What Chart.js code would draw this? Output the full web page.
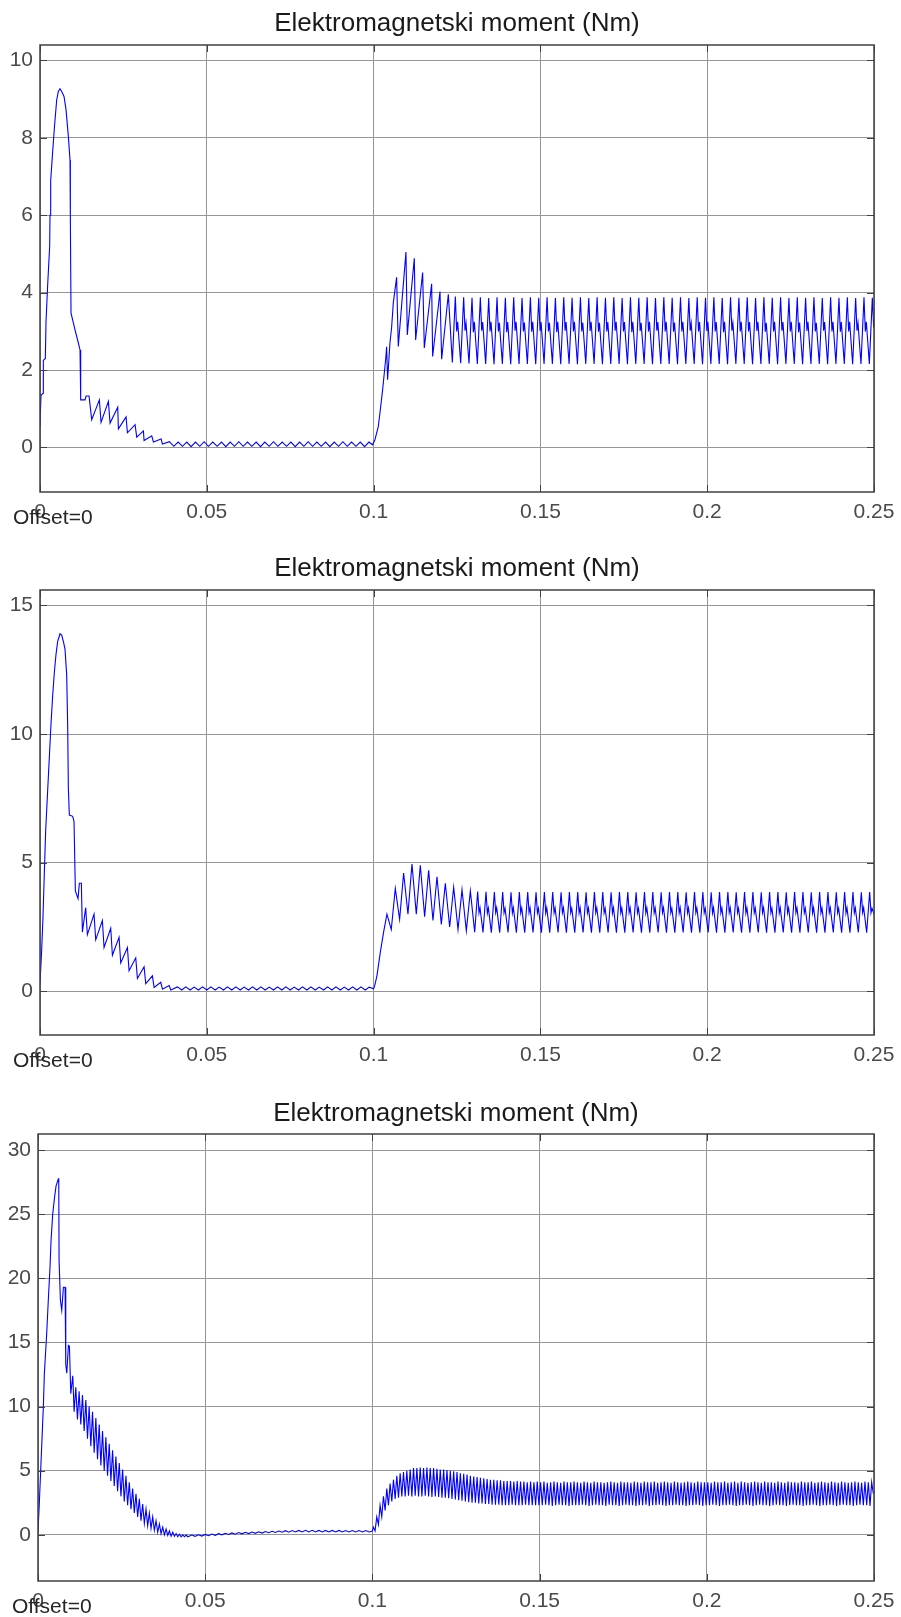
<!DOCTYPE html>
<html>
<head>
<meta charset="utf-8">
<script src="https://cdn.jsdelivr.net/npm/chart.js@4.4.1/dist/chart.umd.min.js"></script>
<style>
  html, body { margin: 0; padding: 0; background: #fff; }
  .box { position: absolute; left: 0; width: 901px; }
</style>
</head>
<body>
<div class="box" style="top:0;height:545px"><canvas id="c1"></canvas></div>
<div class="box" style="top:545px;height:545px"><canvas id="c2"></canvas></div>
<div class="box" style="top:1090px;height:527px"><canvas id="c3"></canvas></div>
<script>
/* ================= DATA (time in ms, torque in Nm) ================= */
const chartTitle = "Elektromagnetski moment (Nm)";
const offsetText = "Offset=0";
const xTicks = [0, 0.05, 0.1, 0.15, 0.2, 0.25];
const xTickLabels = ["0", "0.05", "0.1", "0.15", "0.2", "0.25"];

const yTicks1 = [0, 2, 4, 6, 8, 10];
const yRange1 = [-1.15, 10.4];
const yTicks2 = [0, 5, 10, 15];
const yRange2 = [-1.7, 15.6];
const yTicks3 = [0, 5, 10, 15, 20, 25, 30];
const yRange3 = [-3.6, 31.25];

// plot 1 : start-up
const t1a = [0,0.3,0.9,1.0,1.6,1.8,2.3,2.9,3.0,3.2,3.8,4.3,5.0,5.5,6.0,6.5,7.2,7.8,8.5,9.0,
  9.1,9.3,10.5,11.5,12.0,12.2,13.5,13.8,14.7,15.5,17.8,18.3,20.5,21.0,23.3,23.5,25.8,26.2,28.5,29.0,
  31.0,31.2,33.5,34.0,36.3,36.7];
const v1a = [0.55,1.35,1.4,2.25,2.3,3.25,4.2,5.2,6.0,6.9,7.65,8.25,8.98,9.2,9.27,9.2,9.07,8.73,8.04,7.43,
  5.9,3.47,3.04,2.7,2.52,1.23,1.23,1.33,1.33,0.72,1.23,0.65,1.19,0.63,1.04,0.48,0.79,0.38,0.59,0.27,
  0.43,0.18,0.3,0.14,0.22,0.09];
// plot 1 : no-load ripple
const t1b = [38.8,40.1,41.4,42.7,44.0,45.3,46.6,47.9,49.2,50.5,51.8,53.1,54.4,55.7,57.0,58.3,59.6,60.9,62.2,63.5,
  64.8,66.1,67.4,68.7,70.0,71.3,72.6,73.9,75.2,76.5,77.8,79.1,80.4,81.7,83.0,84.3,85.6,86.9,88.2,89.5,
  90.8,92.1,93.4,94.7,96.0,97.3,98.6,99.7];
const v1b = [0.15,0.03,0.14,0.03,0.14,0.02,0.14,0.03,0.15,0.03,0.14,0.03,0.14,0.02,0.14,0.03,0.15,0.03,0.14,0.03,
  0.14,0.02,0.14,0.03,0.15,0.03,0.14,0.03,0.14,0.02,0.14,0.03,0.15,0.03,0.14,0.03,0.14,0.02,0.14,0.03,
  0.15,0.03,0.14,0.03,0.14,0.02,0.14,0.07];
// plot 1 : load step
const t1c = [100.4,101.4,101.9,102.7,103.2,103.7,103.9,104.2,104.9,105.4,105.9,106.9,107.4,109.7,110.1,112.2,112.6,114.7,115.2,117.4,
  117.7,119.9,120.4,122.4];
const v1c = [0.2,0.54,0.89,1.49,1.92,2.35,2.6,1.75,2.7,3.1,3.73,4.4,2.61,5.05,2.91,4.89,2.78,4.52,2.57,4.23,
  2.35,4.03,2.28,3.96];
// plot 1 : steady state (trough, peak, notch, notch)
const t1d = [
  123.6,124.5,124.9,125.2, 126.1,127.0,127.4,127.7, 128.6,129.5,129.9,130.2, 131.1,132.0,132.4,132.7, 133.6,134.5,134.9,135.2,
  136.1,137.0,137.4,137.7, 138.6,139.5,139.9,140.2, 141.1,142.0,142.4,142.7, 143.6,144.5,144.9,145.2, 146.1,147.0,147.4,147.7,
  148.6,149.5,149.9,150.2, 151.1,152.0,152.4,152.7, 153.6,154.5,154.9,155.2, 156.1,157.0,157.4,157.7, 158.6,159.5,159.9,160.2,
  161.1,162.0,162.4,162.7, 163.6,164.5,164.9,165.2, 166.1,167.0,167.4,167.7, 168.6,169.5,169.9,170.2, 171.1,172.0,172.4,172.7,
  173.6,174.5,174.9,175.2, 176.1,177.0,177.4,177.7, 178.6,179.5,179.9,180.2, 181.1,182.0,182.4,182.7, 183.6,184.5,184.9,185.2,
  186.1,187.0,187.4,187.7, 188.6,189.5,189.9,190.2, 191.1,192.0,192.4,192.7, 193.6,194.5,194.9,195.2, 196.1,197.0,197.4,197.7,
  198.6,199.5,199.9,200.2, 201.1,202.0,202.4,202.7, 203.6,204.5,204.9,205.2, 206.1,207.0,207.4,207.7, 208.6,209.5,209.9,210.2,
  211.1,212.0,212.4,212.7, 213.6,214.5,214.9,215.2, 216.1,217.0,217.4,217.7, 218.6,219.5,219.9,220.2, 221.1,222.0,222.4,222.7,
  223.6,224.5,224.9,225.2, 226.1,227.0,227.4,227.7, 228.6,229.5,229.9,230.2, 231.1,232.0,232.4,232.7, 233.6,234.5,234.9,235.2,
  236.1,237.0,237.4,237.7, 238.6,239.5,239.9,240.2, 241.1,242.0,242.4,242.7, 243.6,244.5,244.9,245.2, 246.1,247.0,247.4,247.7,
  248.6,249.5,249.9];
const v1d = [
  2.2,3.9,3.0,3.25, 2.18,3.88,3.02,3.22, 2.17,3.87,2.98,3.25, 2.16,3.88,3.02,3.24, 2.16,3.86,3.0,3.25,
  2.15,3.88,3.0,3.22, 2.16,3.87,2.98,3.24, 2.15,3.88,3.02,3.25, 2.16,3.86,3.0,3.23, 2.16,3.88,2.99,3.25,
  2.15,3.87,3.01,3.24, 2.16,3.88,3.0,3.22, 2.16,3.86,2.98,3.25, 2.15,3.88,3.02,3.24, 2.16,3.87,3.0,3.25,
  2.15,3.88,3.0,3.23, 2.16,3.86,3.01,3.25, 2.16,3.88,2.99,3.22, 2.15,3.87,3.0,3.24, 2.16,3.88,3.02,3.25,
  2.16,3.86,3.0,3.24, 2.15,3.88,2.98,3.25, 2.16,3.87,3.01,3.22, 2.16,3.88,3.0,3.25, 2.15,3.86,3.02,3.24,
  2.16,3.88,3.0,3.25, 2.16,3.87,2.99,3.23, 2.15,3.88,3.0,3.25, 2.16,3.86,3.02,3.22, 2.16,3.88,3.0,3.24,
  2.15,3.87,3.01,3.25, 2.16,3.88,3.0,3.24, 2.16,3.86,2.98,3.25, 2.15,3.88,3.02,3.22, 2.16,3.87,3.0,3.25,
  2.16,3.88,3.0,3.24, 2.15,3.86,3.01,3.25, 2.16,3.88,2.99,3.22, 2.16,3.87,3.0,3.25, 2.15,3.88,3.02,3.24,
  2.16,3.86,3.0,3.25, 2.16,3.88,2.98,3.23, 2.15,3.87,3.01,3.25, 2.16,3.88,3.0,3.22, 2.16,3.86,3.02,3.24,
  2.15,3.88,3.0,3.25, 2.16,3.87,2.99,3.24, 2.16,3.88,3.0,3.25, 2.15,3.86,3.02,3.22, 2.16,3.88,3.0,3.25,
  2.16,3.87,3.1];

// plot 2 : start-up
const t2a = [0,0.5,0.9,1.3,1.7,2.3,2.8,3.3,3.8,4.3,4.8,5.3,6.0,6.5,7.0,7.5,8.0,8.3,8.5,8.8,
  9.8,10.2,10.6,11.4,11.8,12.4,12.7,13.7,14.2,16.2,16.7,18.7,19.2,21.2,21.7,23.7,24.2,26.2,26.7,28.7,
  29.2,31.2,31.7,33.7,34.2,36.2,36.7,38.7,39.2];
const v2a = [0.3,1.6,2.9,4.6,6.26,7.81,9.1,10.4,11.5,12.4,13.1,13.6,13.9,13.85,13.6,13.3,12.3,10.3,7.9,6.85,
  6.8,6.6,3.9,3.6,4.2,4.2,2.3,3.25,2.2,3.0,2.0,2.75,1.7,2.45,1.4,2.1,1.1,1.7,0.8,1.3,
  0.5,0.95,0.3,0.6,0.15,0.35,0.08,0.22,0.05];
// plot 2 : no-load ripple
const t2b = [41.2,42.5,43.7,45.0,46.2,47.5,48.7,50.0,51.2,52.5,53.7,55.0,56.2,57.5,58.7,60.0,61.2,62.5,63.7,65.0,
  66.2,67.5,68.7,70.0,71.2,72.5,73.7,75.0,76.2,77.5,78.7,80.0,81.2,82.5,83.7,85.0,86.2,87.5,88.7,90.0,
  91.2,92.5,93.7,95.0,96.2,97.5,98.7,100.0];
const v2b = [0.17,0.05,0.17,0.05,0.16,0.05,0.17,0.05,0.17,0.05,0.16,0.05,0.17,0.05,0.17,0.05,0.16,0.05,0.17,0.05,
  0.17,0.05,0.16,0.05,0.17,0.05,0.17,0.05,0.16,0.05,0.17,0.05,0.17,0.05,0.16,0.05,0.17,0.05,0.17,0.05,
  0.16,0.05,0.17,0.05,0.17,0.05,0.16,0.1];
// plot 2 : load step
const t2c = [100.3,101.0,102.0,103.0,104.0,105.3,106.5,107.8,109.0,110.3,111.5,112.8,114.0,115.3,116.5,117.8,119.0,120.3,121.5,122.8,
  124.0,125.3,126.5,127.8,129.0];
const v2c = [0.2,0.6,1.5,2.3,3.0,2.4,4.0,2.8,4.6,3.0,4.95,3.0,4.9,2.9,4.7,2.75,4.45,2.6,4.2,2.5,
  4.05,2.4,3.95,2.35,3.9];
// plot 2 : steady state (trough, peak, notch, notch)
const t2d = [
  130.3,131.2,131.6,131.9, 132.8,133.7,134.1,134.4, 135.3,136.2,136.6,136.9, 137.8,138.7,139.1,139.4, 140.3,141.2,141.6,141.9,
  142.8,143.7,144.1,144.4, 145.3,146.2,146.6,146.9, 147.8,148.7,149.1,149.4, 150.3,151.2,151.6,151.9, 152.8,153.7,154.1,154.4,
  155.3,156.2,156.6,156.9, 157.8,158.7,159.1,159.4, 160.3,161.2,161.6,161.9, 162.8,163.7,164.1,164.4, 165.3,166.2,166.6,166.9,
  167.8,168.7,169.1,169.4, 170.3,171.2,171.6,171.9, 172.8,173.7,174.1,174.4, 175.3,176.2,176.6,176.9, 177.8,178.7,179.1,179.4,
  180.3,181.2,181.6,181.9, 182.8,183.7,184.1,184.4, 185.3,186.2,186.6,186.9, 187.8,188.7,189.1,189.4, 190.3,191.2,191.6,191.9,
  192.8,193.7,194.1,194.4, 195.3,196.2,196.6,196.9, 197.8,198.7,199.1,199.4, 200.3,201.2,201.6,201.9, 202.8,203.7,204.1,204.4,
  205.3,206.2,206.6,206.9, 207.8,208.7,209.1,209.4, 210.3,211.2,211.6,211.9, 212.8,213.7,214.1,214.4, 215.3,216.2,216.6,216.9,
  217.8,218.7,219.1,219.4, 220.3,221.2,221.6,221.9, 222.8,223.7,224.1,224.4, 225.3,226.2,226.6,226.9, 227.8,228.7,229.1,229.4,
  230.3,231.2,231.6,231.9, 232.8,233.7,234.1,234.4, 235.3,236.2,236.6,236.9, 237.8,238.7,239.1,239.4, 240.3,241.2,241.6,241.9,
  242.8,243.7,244.1,244.4, 245.3,246.2,246.6,246.9, 247.8,248.7,249.1,249.4, 250.0];
const v2d = [
  2.3,3.88,3.05,3.25, 2.29,3.87,3.04,3.24, 2.28,3.86,3.06,3.25, 2.28,3.86,3.05,3.23, 2.29,3.85,3.04,3.25,
  2.28,3.86,3.05,3.24, 2.28,3.86,3.06,3.25, 2.29,3.85,3.05,3.23, 2.28,3.86,3.04,3.25, 2.28,3.86,3.05,3.24,
  2.29,3.85,3.06,3.25, 2.28,3.86,3.05,3.23, 2.28,3.86,3.04,3.25, 2.29,3.85,3.05,3.24, 2.28,3.86,3.06,3.25,
  2.28,3.86,3.05,3.23, 2.29,3.85,3.04,3.25, 2.28,3.86,3.05,3.24, 2.28,3.86,3.06,3.25, 2.29,3.85,3.05,3.23,
  2.28,3.86,3.04,3.25, 2.28,3.86,3.05,3.24, 2.29,3.85,3.06,3.25, 2.28,3.86,3.05,3.23, 2.28,3.86,3.04,3.25,
  2.29,3.85,3.05,3.24, 2.28,3.86,3.06,3.25, 2.28,3.86,3.05,3.23, 2.29,3.85,3.04,3.25, 2.28,3.86,3.05,3.24,
  2.28,3.86,3.06,3.25, 2.29,3.85,3.05,3.23, 2.28,3.86,3.04,3.25, 2.28,3.86,3.05,3.24, 2.29,3.85,3.06,3.25,
  2.28,3.86,3.05,3.23, 2.28,3.86,3.04,3.25, 2.29,3.85,3.05,3.24, 2.28,3.86,3.06,3.25, 2.28,3.86,3.05,3.23,
  2.29,3.85,3.04,3.25, 2.28,3.86,3.05,3.24, 2.28,3.86,3.06,3.25, 2.29,3.85,3.05,3.23, 2.28,3.86,3.04,3.25,
  2.28,3.86,3.05,3.24, 2.29,3.85,3.06,3.25, 2.28,3.86,3.05,3.23, 3.0];

// plot 3 : start-up
const t3a = [0,0.4,0.8,1.2,1.6,1.9,2.6,3.1,3.6,3.9,4.4,4.9,5.4,6.1,6.2,6.3,6.7,7.1,7.6,8.1,
  8.3,8.6,9.1,9.4,9.8,10.4,10.8,11.3,11.8];
const v3a = [0.2,2.5,5,7.5,10,12.56,15.7,18.4,20.9,22.95,25.0,26.2,27.2,27.76,27.8,21.4,18.3,17.5,19.3,19.3,
  13.3,12.6,14.77,14.7,11.0,12.4,9.6,11.5,9.0];
const t3b = [12.3,12.8,13.3,13.8,14.3,14.8,15.3,15.8,16.3,16.8,17.3,17.8,18.3,18.8,19.3,19.8,20.3,20.8,21.3,21.8,
  22.3,22.8,23.3,23.8,24.3,24.8,25.3,25.8,26.3,26.8,27.3,27.8,28.3,28.8,29.3,29.8,30.3,30.8,31.3,31.8,
  32.3,32.8,33.3,33.8,34.3,34.8,35.3,35.8,36.3,36.8,37.3,37.8,38.3,38.8,39.3,39.8,40.3,40.8,41.3,41.8,
  42.3,42.8,43.3,43.8,44.3,44.8];
const v3b = [11.2,8.6,10.9,8.1,10.5,7.5,10.0,6.9,9.6,6.4,9.1,5.9,8.6,5.4,8.1,5.0,7.6,4.6,7.1,4.2,
  6.6,3.8,6.1,3.4,5.6,3.0,5.1,2.6,4.6,2.3,4.1,2.0,3.6,1.7,3.2,1.4,2.8,1.1,2.4,0.9,
  2.0,0.7,1.7,0.5,1.4,0.35,1.1,0.2,0.85,0.1,0.6,0.0,0.45,-0.05,0.3,-0.1,0.2,-0.12,0.1,-0.15,
  0.05,-0.15,0.0,-0.15,-0.02,-0.15];
// plot 3 : no-load ripple
const t3c = [46,47,48,49,50,51,52,53,54,55,56,57,58,59,60,61,62,63,64,65,
  66,67,68,69,70,71,72,73,74,75,76,77,78,79,80,81,82,83,84,85,
  86,87,88,89,90,91,92,93,94,95,96,97,98,99,100];
const v3c = [-0.02,-0.12,0.0,-0.1,0.03,-0.07,0.06,-0.04,0.09,0.0,0.12,0.03,0.15,0.05,0.18,0.08,0.2,0.1,0.22,0.12,
  0.24,0.14,0.26,0.16,0.28,0.18,0.3,0.2,0.32,0.2,0.33,0.22,0.34,0.22,0.35,0.22,0.35,0.22,0.34,0.22,
  0.34,0.22,0.34,0.22,0.34,0.22,0.33,0.22,0.33,0.22,0.33,0.22,0.33,0.22,0.3];
// plot 3 : load step and steady state
const t3d = [
  100.3,100.8,101.3,101.8,102.3,102.8,103.3,103.8,104.3,104.8,105.3,105.8,106.3,106.8,107.3,107.8,108.3,108.8,109.3,109.8,
  110.3,110.8,111.3,111.8,112.3,112.8,113.3,113.8,114.3,114.8,115.3,115.8,116.3,116.8,117.3,117.8,118.3,118.8,119.3,119.8,
  120.3,120.8,121.3,121.8,122.3,122.8,123.3,123.8,124.3,124.8,125.3,125.8,126.3,126.8,127.3,127.8,128.3,128.8,129.3,129.8,
  130.3,130.8,131.3,131.8,132.3,132.8,133.3,133.8,134.3,134.8,135.3,135.8,136.3,136.8,137.3,137.8,138.3,138.8,139.3,139.8,
  140.3,140.8,141.3,141.8,142.3,142.8,143.3,143.8,144.3,144.8,145.3,145.8,146.3,146.8,147.3,147.8,148.3,148.8,149.3,149.8,
  150.3,150.8,151.3,151.8,152.3,152.8,153.3,153.8,154.3,154.8,155.3,155.8,156.3,156.8,157.3,157.8,158.3,158.8,159.3,159.8,
  160.3,160.8,161.3,161.8,162.3,162.8,163.3,163.8,164.3,164.8,165.3,165.8,166.3,166.8,167.3,167.8,168.3,168.8,169.3,169.8,
  170.3,170.8,171.3,171.8,172.3,172.8,173.3,173.8,174.3,174.8,175.3,175.8,176.3,176.8,177.3,177.8,178.3,178.8,179.3,179.8,
  180.3,180.8,181.3,181.8,182.3,182.8,183.3,183.8,184.3,184.8,185.3,185.8,186.3,186.8,187.3,187.8,188.3,188.8,189.3,189.8,
  190.3,190.8,191.3,191.8,192.3,192.8,193.3,193.8,194.3,194.8,195.3,195.8,196.3,196.8,197.3,197.8,198.3,198.8,199.3,199.8,
  200.3,200.8,201.3,201.8,202.3,202.8,203.3,203.8,204.3,204.8,205.3,205.8,206.3,206.8,207.3,207.8,208.3,208.8,209.3,209.8,
  210.3,210.8,211.3,211.8,212.3,212.8,213.3,213.8,214.3,214.8,215.3,215.8,216.3,216.8,217.3,217.8,218.3,218.8,219.3,219.8,
  220.3,220.8,221.3,221.8,222.3,222.8,223.3,223.8,224.3,224.8,225.3,225.8,226.3,226.8,227.3,227.8,228.3,228.8,229.3,229.8,
  230.3,230.8,231.3,231.8,232.3,232.8,233.3,233.8,234.3,234.8,235.3,235.8,236.3,236.8,237.3,237.8,238.3,238.8,239.3,239.8,
  240.3,240.8,241.3,241.8,242.3,242.8,243.3,243.8,244.3,244.8,245.3,245.8,246.3,246.8,247.3,247.8,248.3,248.8,249.3,249.8];
const v3d = [
  0.6,0.3,1.4,0.8,2.3,1.4,3.0,1.9,3.6,2.3,4.0,2.6,4.3,2.8,4.6,2.9,4.8,3.0,4.9,3.0,
  5.0,3.05,5.1,3.0,5.2,3.05,5.2,3.0,5.25,3.0,5.2,3.05,5.25,3.0,5.2,2.95,5.2,3.0,5.15,2.95,
  5.1,2.9,5.1,2.9,5.05,2.85,5.0,2.8,4.95,2.75,4.9,2.7,4.8,2.65,4.75,2.6,4.7,2.55,4.6,2.5,
  4.55,2.5,4.5,2.45,4.45,2.45,4.4,2.4,4.35,2.4,4.3,2.35,4.3,2.35,4.25,2.35,4.25,2.3,4.2,2.3,
  4.2,2.3,4.2,2.35,4.15,2.3,4.2,2.3,4.15,2.3,4.15,2.35,4.1,2.3,4.15,2.3,4.1,2.3,4.15,2.3,
  4.1,2.3,4.15,2.35,4.05,2.3,4.1,2.25,4.15,2.3,4.1,2.35,4.05,2.3,4.15,2.3,4.1,2.25,4.1,2.3,
  4.15,2.3,4.1,2.3,4.05,2.35,4.15,2.3,4.1,2.25,4.05,2.3,4.15,2.35,4.1,2.3,4.1,2.3,4.05,2.25,
  4.1,2.35,4.15,2.3,4.1,2.3,4.05,2.25,4.15,2.3,4.1,2.35,4.1,2.3,4.05,2.3,4.15,2.25,4.1,2.3,
  4.05,2.3,4.15,2.35,4.1,2.25,4.1,2.3,4.15,2.3,4.05,2.35,4.1,2.3,4.15,2.25,4.1,2.3,4.05,2.3,
  4.15,2.35,4.1,2.3,4.05,2.3,4.1,2.25,4.15,2.3,4.1,2.3,4.05,2.35,4.15,2.3,4.1,2.25,4.1,2.3,
  4.1,2.3,4.05,2.35,4.15,2.3,4.1,2.25,4.1,2.3,4.15,2.3,4.05,2.35,4.1,2.3,4.15,2.25,4.05,2.3,
  4.15,2.3,4.1,2.35,4.05,2.3,4.1,2.25,4.15,2.3,4.1,2.35,4.05,2.3,4.15,2.3,4.1,2.25,4.1,2.3,
  4.05,2.35,4.15,2.3,4.1,2.3,4.05,2.25,4.15,2.3,4.1,2.35,4.1,2.3,4.05,2.3,4.15,2.25,4.1,2.3,
  4.1,2.3,4.15,2.35,4.05,2.3,4.1,2.25,4.15,2.3,4.1,2.3,4.05,2.35,4.15,2.3,4.1,2.25,4.05,2.3,
  4.15,2.35,4.1,2.3,4.05,2.3,4.1,2.25,4.15,2.3,4.1,2.35,4.05,2.3,4.15,2.3,4.1,2.25,4.1,3.2];

/* ================= HELPERS ================= */
const FONT = "'Liberation Sans', Arial, sans-serif";

function toPoints(parts) {
    const pts = [];
    parts.forEach(([t, v]) => t.forEach((ms, i) => pts.push({ x: ms / 1000, y: v[i] })));
    return pts;
}

const framePlugin = {
    id: "frame",
    afterDraw(chart) {
        const { ctx, chartArea: a, scales: { x, y } } = chart;
        ctx.save();
        ctx.strokeStyle = "#404040";
        ctx.lineWidth = 1;
        ctx.beginPath();
        x.ticks.forEach(t => {
            const px = Math.round(x.getPixelForValue(t.value)) + 0.5;
            ctx.moveTo(px, a.top); ctx.lineTo(px, a.top + 7);
            ctx.moveTo(px, a.bottom); ctx.lineTo(px, a.bottom - 7);
        });
        y.ticks.forEach(t => {
            const py = Math.round(y.getPixelForValue(t.value)) + 0.5;
            ctx.moveTo(a.left, py); ctx.lineTo(a.left + 7, py);
            ctx.moveTo(a.right, py); ctx.lineTo(a.right - 7, py);
        });
        ctx.stroke();
        ctx.lineWidth = 1.5;
        ctx.strokeRect(a.left, a.top, a.right - a.left, a.bottom - a.top);
        ctx.font = "21px " + FONT;
        ctx.fillStyle = "#262626";
        ctx.textAlign = "left";
        ctx.textBaseline = "alphabetic";
        ctx.fillText(offsetText, chart.options.offsetX, a.bottom + 31.5);
        ctx.restore();
    }
};

function buildChart(id, parts, yTicks, yRange, leftW, bottomH, titlePad, offsetX) {
    return new Chart(document.getElementById(id), {
        type: "line",
        data: {
            datasets: [{
                data: toPoints(parts),
                borderColor: "#0000ff",
                borderWidth: 1.1,
                pointRadius: 0,
                tension: 0,
                fill: false
            }]
        },
        options: {
            offsetX,
            responsive: true,
            maintainAspectRatio: false,
            animation: false,
            parsing: false,
            layout: { padding: { left: 0, right: 27, top: 0, bottom: 0 } },
            plugins: {
                legend: { display: false },
                tooltip: { enabled: false },
                title: {
                    display: true,
                    fullSize: false,
                    text: chartTitle,
                    color: "#1a1a1a",
                    font: { family: FONT, size: 26, weight: "normal", lineHeight: 1.2 },
                    padding: titlePad
                }
            },
            scales: {
                x: {
                    type: "linear",
                    min: 0, max: 0.25,
                    afterBuildTicks: s => { s.ticks = xTicks.map(v => ({ value: v })); },
                    afterFit: s => { s.height = bottomH; s.paddingLeft = 0; s.paddingRight = 0; },
                    ticks: {
                        callback: v => xTickLabels[xTicks.indexOf(v)],
                        color: "#4a4a4a",
                        font: { family: FONT, size: 21 },
                        padding: 8, maxRotation: 0, autoSkip: false
                    },
                    grid: { color: "#969696", lineWidth: 1, drawTicks: false },
                    border: { display: false }
                },
                y: {
                    type: "linear",
                    min: yRange[0], max: yRange[1],
                    afterBuildTicks: s => { s.ticks = yTicks.map(v => ({ value: v })); },
                    afterFit: s => { s.width = leftW; s.paddingTop = 0; s.paddingBottom = 0; },
                    ticks: {
                        color: "#4a4a4a",
                        font: { family: FONT, size: 21 },
                        padding: 7
                    },
                    grid: { color: "#969696", lineWidth: 1, drawTicks: false },
                    border: { display: false }
                }
            }
        },
        plugins: [framePlugin]
    });
}

buildChart("c1", [[t1a, v1a], [t1b, v1b], [t1c, v1c], [t1d, v1d]], yTicks1, yRange1, 40, 53, { top: 8.5, bottom: 5.3 }, 13);
buildChart("c2", [[t2a, v2a], [t2b, v2b], [t2c, v2c], [t2d, v2d]], yTicks2, yRange2, 40, 55, { top: 8.5, bottom: 5.3 }, 13);
buildChart("c3", [[t3a, v3a], [t3b, v3b], [t3c, v3c], [t3d, v3d]], yTicks3, yRange3, 38, 36, { top: 8.5, bottom: 4.3 }, 12);
</script>
</body>
</html>
